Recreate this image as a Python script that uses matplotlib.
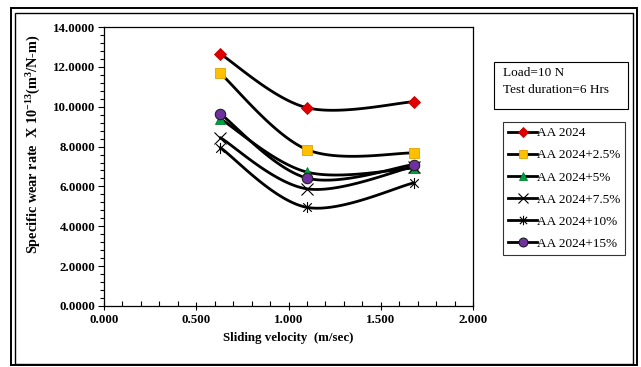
import numpy as np
import matplotlib
matplotlib.use("Agg")
import matplotlib.pyplot as plt
from matplotlib.path import Path
from matplotlib.patches import Rectangle
from matplotlib.lines import Line2D
from matplotlib.ticker import MultipleLocator, FormatStrFormatter

plt.rcParams['font.family'] = ['Liberation Serif', 'DejaVu Serif']
plt.rcParams['mathtext.fontset'] = 'custom'
plt.rcParams['mathtext.rm'] = 'Liberation Serif'
plt.rcParams['mathtext.bf'] = 'Liberation Serif:bold'
plt.rcParams['mathtext.default'] = 'bf'

# Sliding velocity (m/sec)
velocity = [0.63, 1.10, 1.68]

# Specific wear rate x 10^-13 (m^3/N-m)
aa2024 = [12.65, 9.95, 10.25]
aa2024_2_5 = [11.68, 7.85, 7.68]
aa2024_5 = [9.40, 6.72, 6.92]
aa2024_7_5 = [8.45, 5.88, 7.00]
aa2024_10 = [7.95, 4.95, 6.18]
aa2024_15 = [9.65, 6.42, 7.10]

labels = ["AA 2024", "AA 2024+2.5%", "AA 2024+5%", "AA 2024+7.5%",
          "AA 2024+10%", "AA 2024+15%"]

# asterisk marker: x with a vertical stroke
star_path = Path([(-1, -1), (1, 1), (-1, 1), (1, -1), (0, -1.3), (0, 1.3)],
                 [Path.MOVETO, Path.LINETO, Path.MOVETO, Path.LINETO,
                  Path.MOVETO, Path.LINETO])

styles = [
    dict(marker='D', mfc='#E00000', mec='#C00000', ms=6.5, mew=0.6),
    dict(marker='s', mfc='#FFC000', mec='#E0A000', ms=7.5, mew=0.6),
    dict(marker='^', mfc='#00A040', mec='#008030', ms=6.5, mew=0.6),
    dict(marker='x', mfc='none', mec='black', ms=8, mew=0.8),
    dict(marker=star_path, mfc='none', mec='black', ms=8, mew=0.8),
    dict(marker='o', mfc='#7030A0', mec='#202020', ms=7.5, mew=0.8),
]


def smooth(xs, ys, n=60):
    """Catmull-Rom style smoothed curve through the points (Bezier form)."""
    p = np.column_stack([xs, ys]).astype(float)
    ext = np.vstack([p[0], p, p[-1]])
    out = []
    t = np.linspace(0, 1, n)[:, None]
    for i in range(len(p) - 1):
        p0, p1, p2, p3 = ext[i], ext[i + 1], ext[i + 2], ext[i + 3]
        c1 = p1 + (p2 - p0) / 6.0
        c2 = p2 - (p3 - p1) / 6.0
        seg = ((1 - t) ** 3) * p1 + 3 * ((1 - t) ** 2) * t * c1 \
            + 3 * (1 - t) * t ** 2 * c2 + t ** 3 * p2
        out.append(seg)
    pts = np.vstack(out)
    return pts[:, 0], pts[:, 1]


W, H = 641, 367
fig = plt.figure(figsize=(W / 100, H / 100), dpi=100)
ax = fig.add_axes([104 / W, 1 - 306 / H, (473 - 104) / W, (306 - 27) / H])

series = [aa2024, aa2024_2_5, aa2024_5, aa2024_7_5, aa2024_10, aa2024_15]
handles = []
for ys, st, lab in zip(series, styles, labels):
    sx, sy = smooth(velocity, ys)
    ax.plot(sx, sy, color='black', lw=2.0, solid_capstyle='round', zorder=2)
    ax.plot(velocity, ys, ls='none', zorder=3, **st)
    lst = dict(st)
    lst['ms'] = st['ms'] * 0.85
    handles.append(Line2D([0], [0], color='black', lw=2.0, **lst))

ax.set_xlim(0, 2.0)
ax.set_ylim(0, 14.0)
ax.xaxis.set_major_locator(MultipleLocator(0.5))
ax.xaxis.set_minor_locator(MultipleLocator(0.1))
ax.yaxis.set_major_locator(MultipleLocator(2.0))
ax.yaxis.set_minor_locator(MultipleLocator(0.4))
ax.xaxis.set_major_formatter(FormatStrFormatter('%.3f'))
ax.yaxis.set_major_formatter(FormatStrFormatter('%.4f'))
ax.tick_params(axis='x', which='major', direction='inout', length=6, width=0.8,
               labelsize=9.3, pad=3)
ax.tick_params(axis='x', which='minor', direction='in', length=3.5, width=0.8)
ax.tick_params(axis='y', which='major', direction='out', length=4, width=0.8,
               labelsize=9.3, pad=2)
ax.tick_params(axis='y', which='minor', direction='out', length=3, width=0.8)
for lab in ax.get_xticklabels() + ax.get_yticklabels():
    lab.set_fontweight('bold')
for sp in ax.spines.values():
    sp.set_linewidth(0.9)

ax.set_xlabel("Sliding velocity  (m/sec)", fontsize=9.3, fontweight='bold',
              labelpad=4)
ax.set_ylabel(r"Specific wear rate  X 10$^{-13}$(m$^{3}$/N-m)",
              fontsize=10.3, fontweight='bold')
ax.yaxis.set_label_coords((43 - 104) / 369, (306 - 144) / 279)

# annotation box with test conditions
fig.add_artist(Rectangle((494 / W, 1 - 109 / H), (628 - 494) / W, (109 - 62) / H,
                         transform=fig.transFigure, fill=False, lw=0.8,
                         edgecolor='black'))
fig.text(503 / W, 1 - 73 / H, "Load=10 N", fontsize=9.5, va='center', ha='left')
fig.text(503 / W, 1 - 90 / H, "Test duration=6 Hrs", fontsize=9.5, va='center',
         ha='left')

leg = fig.legend(handles, labels, loc='upper left',
                 bbox_to_anchor=(503 / W, 1 - 122 / H), fontsize=9.5,
                 frameon=True, fancybox=False, edgecolor='black',
                 handlelength=2.2, handletextpad=0.0, borderpad=0.38,
                 labelspacing=0.75, borderaxespad=0)
leg.get_frame().set_linewidth(0.8)

# double frame around the figure
fig.add_artist(Rectangle((11 / W, 1 - 365 / H), (637 - 11) / W, (365 - 8) / H,
                         transform=fig.transFigure, fill=False, lw=1.4,
                         edgecolor='black'))
fig.add_artist(Rectangle((15 / W, 1 - 364 / H), (633 - 15) / W, (364 - 12.5) / H,
                         transform=fig.transFigure, fill=False, lw=1.0,
                         edgecolor='black'))

fig.savefig("out.png", dpi=100)
